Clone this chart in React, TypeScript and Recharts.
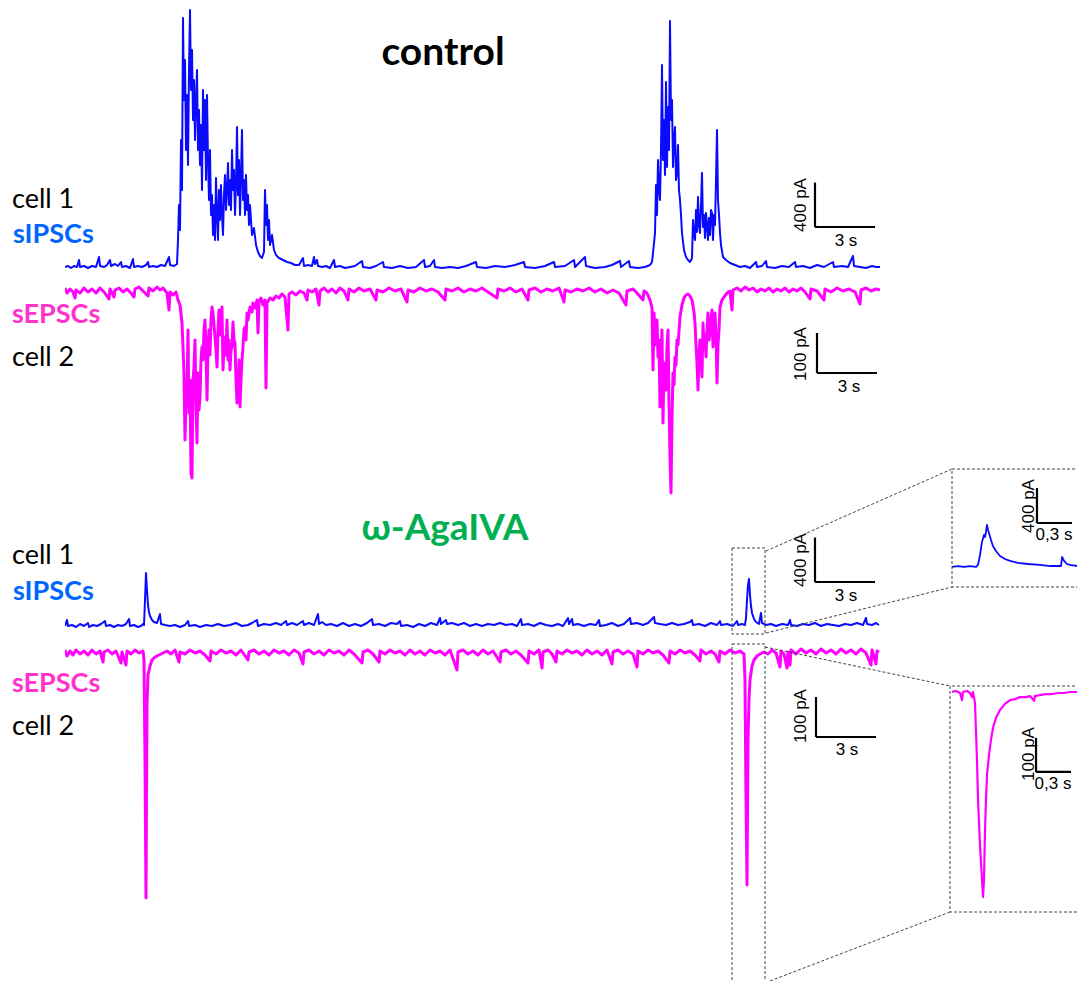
import React from "react";
import { LineChart, Line, XAxis, YAxis, ReferenceLine } from "recharts";

// Paired whole-cell recordings. Time in s (insets in ms), current in pA.
// sIPSCs are plotted as outward (up), sEPSCs as inward (down).

const ctrlIpsc: [number, number][] = [
  [0, 9], [0.15, 18], [0.3, 0], [0.45, 18], [0.6, 9], [0.7, 72], [0.75, 9], [0.95, 18], [1.15, 0], [1.35, 18],
  [1.55, 9], [1.7, 99], [1.75, 18], [1.95, 9], [2.1, 27], [2.25, 72], [2.3, 18], [2.5, 36], [2.65, 18], [2.8, 54],
  [2.85, 9], [3.05, 18], [3.25, 0], [3.4, 81], [3.45, 9], [3.65, 18], [3.85, 9], [4.05, 27], [4.15, 54], [4.2, 9],
  [4.4, 18], [4.6, 9], [4.8, 27], [5.0, 18], [5.2, 99], [5.25, 27], [5.45, 18], [5.6, 36],
  [5.65, 252], [5.7, 567], [5.75, 342], [5.8, 1152], [5.85, 702], [5.9, 2250], [5.95, 1512], [6.0, 1872], [6.05, 1062],
  [6.1, 1557], [6.15, 927], [6.2, 1782], [6.25, 2322], [6.3, 1602], [6.35, 1962], [6.4, 1332], [6.45, 1692], [6.5, 1152],
  [6.55, 1512], [6.6, 1782], [6.65, 1062], [6.7, 1422], [6.75, 927], [6.8, 1287], [6.85, 702], [6.9, 1602], [6.95, 1062],
  [7.0, 1512], [7.05, 792], [7.1, 1557], [7.15, 972], [7.2, 612], [7.25, 1062], [7.3, 477], [7.35, 657], [7.4, 297],
  [7.45, 567], [7.5, 252], [7.55, 810], [7.6, 477], [7.65, 252], [7.7, 702], [7.75, 432], [7.8, 747], [7.85, 477],
  [7.9, 297], [7.95, 657], [8.0, 837], [8.05, 522], [8.1, 702], [8.15, 945], [8.2, 567], [8.25, 792], [8.3, 522],
  [8.35, 1062], [8.4, 702], [8.45, 882], [8.5, 477], [8.55, 747], [8.6, 1269], [8.65, 657], [8.7, 972], [8.75, 477],
  [8.8, 837], [8.85, 1242], [8.9, 612], [8.95, 792], [9.0, 477], [9.05, 837], [9.1, 522], [9.15, 657], [9.2, 387],
  [9.25, 567], [9.35, 297], [9.45, 360], [9.55, 207], [9.65, 144], [9.75, 108], [9.85, 90], [9.95, 144], [10.0, 702],
  [10.05, 387], [10.1, 567], [10.15, 252], [10.2, 432], [10.25, 207], [10.35, 297], [10.45, 162], [10.55, 117],
  [10.7, 90], [10.9, 72], [11.1, 54], [11.3, 45], [11.5, 27], [11.7, 27], [11.9, 90], [11.95, 18], [12.15, 27],
  [12.35, 18], [12.45, 99], [12.5, 36], [12.6, 72], [12.65, 18], [12.85, 9], [13.05, 18], [13.25, 0], [13.45, 72],
  [13.5, 9], [13.75, 18], [14.0, 0], [14.25, 9], [14.5, 18], [14.85, 63], [14.9, 9], [15.25, 0], [15.55, 18], [15.9, 54],
  [15.95, 9], [16.35, 0], [16.75, 18], [17.15, 0], [17.55, 9], [17.95, 72], [18.0, 9], [18.25, 18], [18.45, 72], [18.5, 9],
  [18.85, 0], [19.25, 9], [19.65, 0], [20.05, 18], [20.55, 54], [20.6, 9], [21.05, 0], [21.5, 18], [22.0, 9], [22.5, 27],
  [22.95, 54], [23.0, 9], [23.5, 0], [24.0, 18], [24.45, 54], [24.5, 9], [25.0, 18], [25.45, 72], [25.5, 9], [26.0, 99],
  [26.05, 18], [26.5, 0], [27.0, 9], [27.35, 27], [27.75, 63], [27.8, 9], [28.2, 63], [28.25, 9], [28.65, 0], [29.0, 9],
  [29.25, 27], [29.35, 54], [29.4, 135], [29.5, 315], [29.55, 747], [29.6, 477], [29.65, 972], [29.7, 702], [29.75, 612],
  [29.8, 1062], [29.85, 1827], [29.9, 972], [29.95, 1332], [30.0, 837], [30.05, 1674], [30.1, 909], [30.15, 1449],
  [30.2, 1062], [30.25, 2223], [30.3, 1332], [30.35, 1512], [30.4, 909], [30.45, 1152], [30.5, 1269], [30.55, 792],
  [30.6, 855], [30.65, 1107], [30.7, 702], [30.75, 612], [30.8, 477], [30.85, 315], [30.95, 162], [31.05, 99], [31.15, 72],
  [31.25, 54], [31.35, 90], [31.4, 432], [31.45, 297], [31.5, 252], [31.55, 522], [31.6, 324], [31.65, 639], [31.7, 387],
  [31.75, 315], [31.8, 567], [31.85, 855], [31.9, 369], [31.95, 477], [32.0, 270], [32.05, 495], [32.1, 387], [32.15, 252],
  [32.2, 450], [32.25, 297], [32.3, 522], [32.35, 495], [32.4, 252], [32.45, 477], [32.5, 387], [32.55, 792], [32.6, 1242],
  [32.65, 612], [32.7, 477], [32.75, 315], [32.8, 207], [32.9, 99], [33.05, 72], [33.25, 45], [33.5, 27], [33.75, 9],
  [34.0, 18], [34.25, 0], [34.55, 54], [34.6, 9], [34.85, 18], [35.05, 63], [35.1, 9], [35.5, 0], [35.85, 18], [36.2, 9],
  [36.5, 54], [36.55, 9], [36.9, 18], [37.25, 0], [37.6, 27], [37.95, 9], [38.4, 54], [38.45, 9], [38.85, 18], [39.15, 9],
  [39.4, 108], [39.45, 18], [39.75, 9], [40.05, 0], [40.35, 18], [40.55, 9], [40.75, 9],
];

const ctrlEpsc: [number, number][] = [
  [0, 5], [0.1, -7.5], [0.25, 2.5], [0.4, -5], [0.5, -20], [0.55, 0], [0.75, -7.5], [0.95, 5], [1.15, -5], [1.35, 2.5],
  [1.55, -7.5], [1.75, 5], [1.95, -5], [2.2, -22.5], [2.25, 2.5], [2.45, -17.5], [2.5, 0], [2.7, 5], [2.9, -5], [3.1, 2.5],
  [3.3, -7.5], [3.45, -17.5], [3.5, 2.5], [3.7, 7.5], [3.9, -2.5], [4.15, -15], [4.2, 5], [4.4, -2.5], [4.6, 7.5], [4.75, 0],
  [4.9, 5], [5.1, -7.5], [5.2, -50], [5.25, -5], [5.4, -12.5], [5.55, -5], [5.65, -25], [5.75, -37.5], [5.85, -82.5],
  [5.9, -142.5], [5.95, -212.5], [6.0, -375], [6.05, -275], [6.1, -250], [6.15, -100], [6.2, -307.5], [6.25, -225],
  [6.3, -457.5], [6.35, -470], [6.4, -225], [6.45, -192.5], [6.5, -125], [6.55, -292.5], [6.6, -382.5], [6.65, -207.5],
  [6.7, -300], [6.75, -267.5], [6.8, -175], [6.85, -142.5], [6.9, -175], [6.95, -100], [7.0, -75], [7.05, -150],
  [7.1, -275], [7.15, -142.5], [7.2, -100], [7.25, -162.5], [7.3, -75], [7.35, -42.5], [7.4, -57.5], [7.45, -87.5],
  [7.5, -117.5], [7.55, -150], [7.6, -192.5], [7.65, -100], [7.7, -50], [7.75, -112.5], [7.8, -75], [7.85, -42.5],
  [7.9, -200], [7.95, -137.5], [8.0, -117.5], [8.05, -162.5], [8.1, -75], [8.15, -175], [8.2, -125], [8.25, -200],
  [8.3, -150], [8.35, -142.5], [8.4, -80], [8.45, -125], [8.5, -132.5], [8.55, -225], [8.6, -282.5], [8.65, -275],
  [8.7, -175], [8.75, -292.5], [8.8, -225], [8.85, -175], [8.9, -142.5], [8.95, -100], [9.0, -92.5], [9.05, -125],
  [9.1, -57.5], [9.15, -75], [9.25, -42.5], [9.35, -55], [9.4, -32.5], [9.5, -45], [9.6, -25], [9.65, -107.5], [9.7, -30],
  [9.8, -20], [9.9, -37.5], [10.0, -25], [10.05, -245], [10.1, -32.5], [10.25, -20], [10.4, -25], [10.55, -15], [10.7, -20],
  [10.85, -10], [11.0, -17.5], [11.15, -100], [11.2, -10], [11.35, -5], [11.55, -12.5], [11.75, -2.5], [11.95, -7.5],
  [12.1, -25], [12.15, 0], [12.35, -5], [12.55, 2.5], [12.7, -37.5], [12.75, -2.5], [12.95, 5], [13.15, -5], [13.35, 2.5],
  [13.55, -7.5], [13.75, 5], [13.95, -2.5], [14.15, -25], [14.2, 2.5], [14.45, -5], [14.7, 5], [14.95, -2.5], [15.25, 2.5],
  [15.55, -25], [15.6, 0], [15.9, -5], [16.2, 5], [16.5, -2.5], [16.8, 2.5], [17.1, -30], [17.15, 0], [17.45, -5], [17.75, 5],
  [18.05, -2.5], [18.35, 2.5], [18.65, -5], [19.0, -25], [19.05, 2.5], [19.35, -2.5], [19.65, 5], [19.95, -5], [20.25, 2.5],
  [20.55, -2.5], [20.85, 5], [21.15, -5], [21.6, -20], [21.65, 2.5], [21.95, -2.5], [22.25, 5], [22.55, -5], [22.85, 2.5],
  [23.15, -25], [23.2, 0], [23.5, 5], [23.8, -5], [24.1, 2.5], [24.4, -2.5], [24.7, 5], [24.95, -30], [25.0, 0], [25.3, -5],
  [25.6, 2.5], [25.9, -2.5], [26.2, 5], [26.5, -5], [26.8, 2.5], [27.1, -7.5], [27.4, 0], [27.7, -7.5], [28.05, -37.5],
  [28.1, -2.5], [28.4, 2.5], [28.6, -7.5], [28.9, -25], [28.95, -2.5], [29.1, -7.5], [29.25, -25], [29.35, -45],
  [29.4, -200], [29.45, -57.5], [29.5, -100], [29.55, -137.5], [29.6, -75], [29.65, -167.5], [29.7, -125], [29.75, -292.5],
  [29.8, -200], [29.85, -100], [29.9, -332.5], [29.95, -182.5], [30.0, -225], [30.05, -250], [30.1, -142.5], [30.15, -100],
  [30.2, -282.5], [30.25, -417.5], [30.3, -507.5], [30.35, -325], [30.4, -207.5], [30.45, -237.5], [30.5, -167.5],
  [30.55, -187.5], [30.6, -125], [30.65, -137.5], [30.75, -67.5], [30.85, -37.5], [30.95, -20], [31.05, -12.5], [31.15, -10],
  [31.25, -15], [31.35, -25], [31.45, -55], [31.5, -82.5], [31.55, -137.5], [31.6, -182.5], [31.65, -250], [31.7, -162.5],
  [31.75, -125], [31.8, -175], [31.85, -217.5], [31.9, -82.5], [31.95, -137.5], [32.0, -112.5], [32.05, -167.5], [32.1, -100],
  [32.15, -57.5], [32.2, -125], [32.25, -107.5], [32.3, -75], [32.35, -50], [32.4, -142.5], [32.45, -87.5], [32.5, -57.5],
  [32.55, -112.5], [32.6, -232.5], [32.65, -137.5], [32.7, -100], [32.75, -42.5], [32.85, -25], [32.95, -17.5], [33.1, -7.5],
  [33.25, -2.5], [33.35, -50], [33.4, 0], [33.6, 5], [33.8, -2.5], [34.0, 7.5], [34.2, 0], [34.4, 5], [34.6, -5], [34.8, 2.5],
  [35.0, -2.5], [35.2, 5], [35.4, -5], [35.6, 2.5], [35.8, -2.5], [36.0, 5], [36.2, -5], [36.4, 2.5], [36.6, -2.5], [36.8, 5],
  [37.0, -5], [37.25, -22.5], [37.3, 2.5], [37.6, -2.5], [37.95, -25], [38.0, 2.5], [38.3, -5], [38.6, 5], [38.9, -2.5],
  [39.2, 2.5], [39.5, -5], [39.75, -35], [39.8, 0], [40.05, 5], [40.3, -2.5], [40.55, 2.5], [40.75, 0],
];

const agaIpsc: [number, number][] = [
  [0, 0], [0.1, 54], [0.15, 0], [0.35, 9], [0.55, -9], [0.75, 18], [0.95, 0], [1.15, 27], [1.2, -9], [1.4, 9], [1.6, 0],
  [1.8, 18], [2.0, 45], [2.05, 0], [2.25, 9], [2.45, -9], [2.65, 9], [2.85, 0], [3.05, 18], [3.2, 63], [3.25, 0], [3.45, 9],
  [3.65, -9], [3.8, 0], [3.9, 18], [3.95, 9], [4.0, 234], [4.05, 477], [4.1, 324], [4.15, 189], [4.2, 126], [4.25, 90],
  [4.35, 54], [4.45, 36], [4.6, 27], [4.75, 108], [4.8, 18], [5.0, 9], [5.25, 0], [5.5, 9], [5.75, -9], [6.0, 9], [6.15, 45],
  [6.2, 0], [6.5, 9], [6.75, -9], [7.05, 9], [7.35, 0], [7.65, 18], [7.95, 0], [8.25, 9], [8.55, 27], [8.85, 0], [9.15, 9],
  [9.35, 27], [9.6, 54], [9.65, 0], [9.95, 18], [10.25, 9], [10.55, 27], [10.8, 9], [11.05, 45], [11.1, 9], [11.35, 27],
  [11.6, 9], [11.9, 45], [11.95, 9], [12.2, 27], [12.45, 9], [12.65, 108], [12.7, 18], [12.85, 36], [13.05, 9], [13.3, 18],
  [13.6, 0], [13.9, 27], [14.2, 0], [14.5, 18], [14.8, 0], [15.1, 27], [15.35, 63], [15.4, 9], [15.7, 18], [16.0, 0],
  [16.3, 27], [16.6, 18], [16.75, 45], [16.8, 0], [17.1, 9], [17.4, -9], [17.7, 18], [18.0, 0], [18.3, 27], [18.6, 9],
  [18.75, 72], [18.8, 18], [19.05, 54], [19.1, 18], [19.35, 27], [19.65, 9], [19.95, 27], [20.25, 0], [20.55, 18], [20.85, 0],
  [21.15, 18], [21.45, 9], [21.75, 27], [22.05, 9], [22.35, 18], [22.6, 0], [22.8, 63], [22.85, 9], [23.15, 18], [23.45, 0],
  [23.75, 27], [24.05, 9], [24.35, 0], [24.65, 18], [24.9, 0], [25.15, 72], [25.2, 18], [25.35, 63], [25.4, 9], [25.65, 18],
  [25.95, 0], [26.25, 18], [26.55, 9], [26.7, 54], [26.75, 0], [27.05, 9], [27.35, 27], [27.65, 0], [27.95, 18], [28.25, 72],
  [28.3, 18], [28.6, 27], [28.9, 9], [29.15, 27], [29.45, 81], [29.5, 27], [29.75, 18], [30.05, 9], [30.35, 27], [30.65, 9],
  [30.95, 18], [31.25, 36], [31.35, 54], [31.4, 9], [31.7, 18], [32.0, 0], [32.3, 27], [32.6, 9], [32.75, 45], [32.8, 9],
  [33.1, 18], [33.4, 0], [33.6, 45], [33.65, 9], [33.85, 18], [34.0, 9], [34.05, 72], [34.1, 234], [34.15, 369], [34.2, 423],
  [34.25, 279], [34.3, 180], [34.35, 117], [34.45, 63], [34.55, 36], [34.7, 18], [34.8, 117], [34.85, 27], [35.05, 9],
  [35.3, 18], [35.55, 0], [35.85, 18], [36.15, 9], [36.25, 54], [36.3, 9], [36.6, 0], [36.9, 18], [37.2, 9], [37.5, 27],
  [37.8, 0], [38.1, 18], [38.4, 9], [38.7, 0], [39.0, 18], [39.3, 9], [39.6, 27], [39.9, 9], [40.05, 72], [40.1, 18],
  [40.35, 9], [40.55, 27], [40.7, 9],
];

const agaEpsc: [number, number][] = [
  [0, 5], [0.1, -10], [0.25, 2.5], [0.4, -7.5], [0.55, 5], [0.75, -5], [0.95, 2.5], [1.15, -7.5], [1.35, 5], [1.55, -5],
  [1.75, 2.5], [1.9, -25], [1.95, 0], [2.15, 5], [2.35, -5], [2.55, 2.5], [2.8, -27.5], [2.85, 0], [3.05, -32.5], [3.1, 2.5],
  [3.3, -5], [3.5, 5], [3.7, -2.5], [3.9, 2.5], [3.95, -20], [4.0, -270], [4.05, -615], [4.1, -132.5], [4.15, -57.5],
  [4.25, -35], [4.35, -20], [4.5, -12.5], [4.7, -7.5], [4.9, -2.5], [5.1, 2.5], [5.3, -5], [5.5, 5], [5.7, -25], [5.75, 0],
  [6.0, -5], [6.25, 5], [6.5, -2.5], [6.75, 2.5], [7.0, -7.5], [7.25, -22.5], [7.3, 2.5], [7.55, -5], [7.8, 5], [8.05, -2.5],
  [8.3, 2.5], [8.55, -7.5], [8.8, 5], [9.15, -20], [9.2, 0], [9.45, 5], [9.7, -5], [9.95, 2.5], [10.2, -7.5], [10.45, 5],
  [10.7, -2.5], [10.95, 2.5], [11.2, -7.5], [11.45, 5], [11.7, -2.5], [11.9, -30], [11.95, 0], [12.2, 5], [12.45, -5],
  [12.7, 2.5], [12.95, -7.5], [13.2, 5], [13.45, -2.5], [13.7, 2.5], [13.95, -7.5], [14.2, 5], [14.45, -5], [14.85, -27.5],
  [14.9, 0], [15.15, 5], [15.4, -5], [15.7, -25], [15.75, 2.5], [16.0, -5], [16.25, 5], [16.5, -2.5], [16.75, 2.5],
  [17.0, -7.5], [17.25, 5], [17.5, -5], [17.75, 2.5], [18.0, -7.5], [18.25, 5], [18.5, -2.5], [18.75, 2.5], [19.0, -7.5],
  [19.25, 5], [19.6, -45], [19.65, 0], [19.9, 5], [20.15, -5], [20.4, 2.5], [20.65, -7.5], [20.9, 5], [21.15, -5], [21.4, 2.5],
  [21.75, -25], [21.8, 0], [22.05, 5], [22.3, -5], [22.55, 2.5], [22.8, -7.5], [23.15, -27.5], [23.2, 2.5], [23.45, -5],
  [23.7, 5], [23.85, -40], [23.9, 0], [24.15, 5], [24.35, -5], [24.55, -25], [24.6, 2.5], [24.85, -5], [25.1, 5], [25.35, -2.5],
  [25.6, 2.5], [25.85, -7.5], [26.1, 5], [26.35, -5], [26.6, 2.5], [26.85, -7.5], [27.1, 5], [27.35, -30], [27.4, 0],
  [27.65, 5], [27.9, -5], [28.15, 2.5], [28.4, -5], [28.6, -37.5], [28.65, 2.5], [28.9, -5], [29.15, 5], [29.4, -2.5],
  [29.65, 2.5], [29.9, -7.5], [30.2, -27.5], [30.25, 2.5], [30.5, -5], [30.75, 5], [31.0, -2.5], [31.25, 2.5], [31.5, -7.5],
  [31.75, -22.5], [31.8, 5], [32.05, -5], [32.3, 2.5], [32.5, -5], [32.7, -25], [32.75, 2.5], [33.0, -5], [33.25, 5],
  [33.5, -2.5], [33.75, 2.5], [33.95, -5], [34.0, -70], [34.05, -370], [34.1, -582.5], [34.15, -220], [34.2, -120],
  [34.25, -70], [34.35, -35], [34.45, -20], [34.6, -10], [34.75, -5], [34.95, 0], [35.15, -5], [35.35, 5], [35.55, -2.5],
  [35.75, -37.5], [35.8, 2.5], [35.95, -5], [36.1, -40], [36.15, 0], [36.25, -32.5], [36.3, 5], [36.55, -5], [36.8, 7.5],
  [37.05, -2.5], [37.3, 5], [37.55, -5], [37.8, 7.5], [38.05, -2.5], [38.3, 5], [38.55, -5], [38.8, 7.5], [39.05, -2.5],
  [39.3, 5], [39.55, -5], [39.8, 7.5], [40.05, -2.5], [40.3, -32.5], [40.35, 5], [40.55, -30], [40.6, 2.5], [40.7, 0],
];

// expanded views of the second event (ms, pA)
const zoomIpsc: [number, number][] = [
  [0, 0], [51, 11], [103, 0], [154, 11], [206, 0], [223, 23], [240, 137], [257, 286], [274, 366], [283, 343], [291, 400],
  [300, 480], [309, 423], [317, 389], [334, 309], [351, 240], [377, 183], [411, 126], [454, 91], [497, 69], [566, 46],
  [651, 34], [754, 23], [840, 11], [934, 11], [943, 114], [960, 69], [986, 34], [1011, 23], [1071, 11],
];

const zoomEpsc: [number, number][] = [
  [0, 0], [34, 3], [69, -3], [86, -24], [94, 0], [129, 3], [154, -3], [171, -15], [180, 0], [197, -32], [214, -200],
  [223, -318], [240, -450], [257, -553], [266, -603], [274, -553], [283, -406], [291, -318], [300, -244], [317, -185],
  [334, -141], [351, -106], [377, -76], [411, -53], [454, -35], [497, -24], [540, -21], [583, -15], [634, -15], [669, -12],
  [703, -26], [711, -12], [754, -9], [806, -6], [857, -6], [909, -3], [960, -3], [1011, 0], [1071, 0],
];

const BLUE = "#0a0aff";
const MAGENTA = "#ff00ff";
const SANS = "Lato, 'Open Sans', sans-serif";
const ARIAL = "'Liberation Sans', Arial, sans-serif";

type Bar = { t: number; v: number; dt: number; dv: number };

function Trace(props: {
  data: [number, number][];
  left: number;
  top: number;
  width: number;
  height: number;
  xMax: number;
  yDomain: [number, number];
  color: string;
  strokeWidth: number;
  bar: Bar;
}) {
  const { data, left, top, width, height, xMax, yDomain, color, strokeWidth, bar } = props;
  const rows = data.map(([t, v]) => ({ t, v }));
  return (
    <div style={{ position: "absolute", left, top }}>
      <LineChart width={width} height={height} data={rows} margin={{ top: 0, right: 0, bottom: 0, left: 0 }}>
        <XAxis type="number" dataKey="t" domain={[0, xMax]} hide allowDataOverflow />
        <YAxis type="number" domain={yDomain} hide allowDataOverflow />
        <Line
          type="linear"
          dataKey="v"
          stroke={color}
          strokeWidth={strokeWidth}
          strokeLinejoin="round"
          dot={false}
          isAnimationActive={false}
        />
        <ReferenceLine
          segment={[{ x: bar.t, y: bar.v }, { x: bar.t, y: bar.v + bar.dv }]}
          stroke="#000"
          strokeWidth={2.2}
          ifOverflow="visible"
        />
        <ReferenceLine
          segment={[{ x: bar.t, y: bar.v }, { x: bar.t + bar.dt, y: bar.v }]}
          stroke="#000"
          strokeWidth={2.2}
          ifOverflow="visible"
        />
      </LineChart>
    </div>
  );
}

function Label({ x, y, text, color, bold, size = 27 }: { x: number; y: number; text: string; color: string; bold?: boolean; size?: number }) {
  return (
    <text x={x} y={y} fill={color} fontFamily={SANS} fontSize={size} fontWeight={bold ? 700 : 400}>
      {text}
    </text>
  );
}

function BarText({ x, y, text, rotate }: { x: number; y: number; text: string; rotate?: boolean }) {
  return (
    <text
      x={x}
      y={y}
      fontFamily={ARIAL}
      fontSize={17}
      fill="#000"
      textAnchor="middle"
      dominantBaseline="central"
      transform={rotate ? `rotate(-90 ${x} ${y})` : undefined}
    >
      {text}
    </text>
  );
}

export default function App() {
  const dash = { stroke: "#444", strokeWidth: 1, strokeDasharray: "3 2", fill: "none" };
  return (
    <div
      style={{
        position: "absolute",
        left: 0,
        top: 0,
        width: 1077,
        height: 981,
        overflow: "hidden",
        background: "#fff",
      }}
    >
      <Trace data={ctrlIpsc} left={65} top={0} width={815} height={280} xMax={40.75} yDomain={[-108, 2412]}
        color={BLUE} strokeWidth={2} bar={{ t: 37.5, v: 369, dt: 3, dv: 400 }} />
      <Trace data={ctrlEpsc} left={65} top={280} width={815} height={220} xMax={40.75} yDomain={[-525, 25]}
        color={MAGENTA} strokeWidth={3} bar={{ t: 37.6, v: -207.5, dt: 3, dv: 100 }} />
      <Trace data={agaIpsc} left={65} top={530} width={815} height={110} xMax={40.75} yDomain={[-126, 864]}
        color={BLUE} strokeWidth={2} bar={{ t: 37.5, v: 396, dt: 3, dv: 400 }} />
      <Trace data={agaEpsc} left={65} top={640} width={815} height={270} xMax={40.75} yDomain={[-645, 30]}
        color={MAGENTA} strokeWidth={3} bar={{ t: 37.55, v: -212.5, dt: 3, dv: 100 }} />
      <Trace data={zoomIpsc} left={952} top={470} width={125} height={115} xMax={1071} yDomain={[-206, 1109]}
        color={BLUE} strokeWidth={1.8} bar={{ t: 728, v: 503, dt: 300, dv: 400 }} />
      <Trace data={zoomEpsc} left={952} top={686} width={125} height={226} xMax={1071} yDomain={[-647, 17.6]}
        color={MAGENTA} strokeWidth={2.2} bar={{ t: 720, v: -235, dt: 300, dv: 100 }} />

      <svg width={1077} height={981} style={{ position: "absolute", left: 0, top: 0, pointerEvents: "none" }}>
        <text x={443} y={65} textAnchor="middle" fontFamily={SANS} fontSize={39} fontWeight={700} fill="#000">
          control
        </text>
        <text x={445} y={540} textAnchor="middle" fontFamily={SANS} fontSize={37} fontWeight={700} fill="#00b050">
          ω-AgaIVA
        </text>

        <Label x={12} y={208} text="cell 1" color="#000" />
        <Label x={13} y={243} text="sIPSCs" color="#0066ff" bold />
        <Label x={12} y={323} text="sEPSCs" color="#ff33cc" bold />
        <Label x={12} y={366} text="cell 2" color="#000" />
        <Label x={12} y={564} text="cell 1" color="#000" />
        <Label x={13} y={600} text="sIPSCs" color="#0066ff" bold />
        <Label x={12} y={692} text="sEPSCs" color="#ff33cc" bold />
        <Label x={12} y={735} text="cell 2" color="#000" />

        <BarText x={800} y={205} text="400 pA" rotate />
        <BarText x={846} y={240} text="3 s" />
        <BarText x={800} y={354} text="100 pA" rotate />
        <BarText x={849} y={386} text="3 s" />
        <BarText x={800} y={560} text="400 pA" rotate />
        <BarText x={846} y={595} text="3 s" />
        <BarText x={800} y={716} text="100 pA" rotate />
        <BarText x={847} y={749} text="3 s" />
        <BarText x={1028} y={506} text="400 pA" rotate />
        <BarText x={1054} y={534} text="0,3 s" />
        <BarText x={1028} y={754} text="100 pA" rotate />
        <BarText x={1053} y={783} text="0,3 s" />

        {/* zoom frames */}
        <rect x={732} y={548} width={33} height={86} {...dash} />
        <rect x={732} y={644} width={33} height={360} {...dash} />
        <path d="M1080,469 H952 V587 H1080" {...dash} />
        <path d="M1080,686 H950 V912 H1080" {...dash} />
        <line x1={766} y1={551} x2={952} y2={469} {...dash} />
        <line x1={766} y1={633} x2={952} y2={587} {...dash} />
        <line x1={765} y1={647} x2={950} y2={686} {...dash} />
        <line x1={770} y1={981} x2={950} y2={912} {...dash} />
      </svg>
    </div>
  );
}
